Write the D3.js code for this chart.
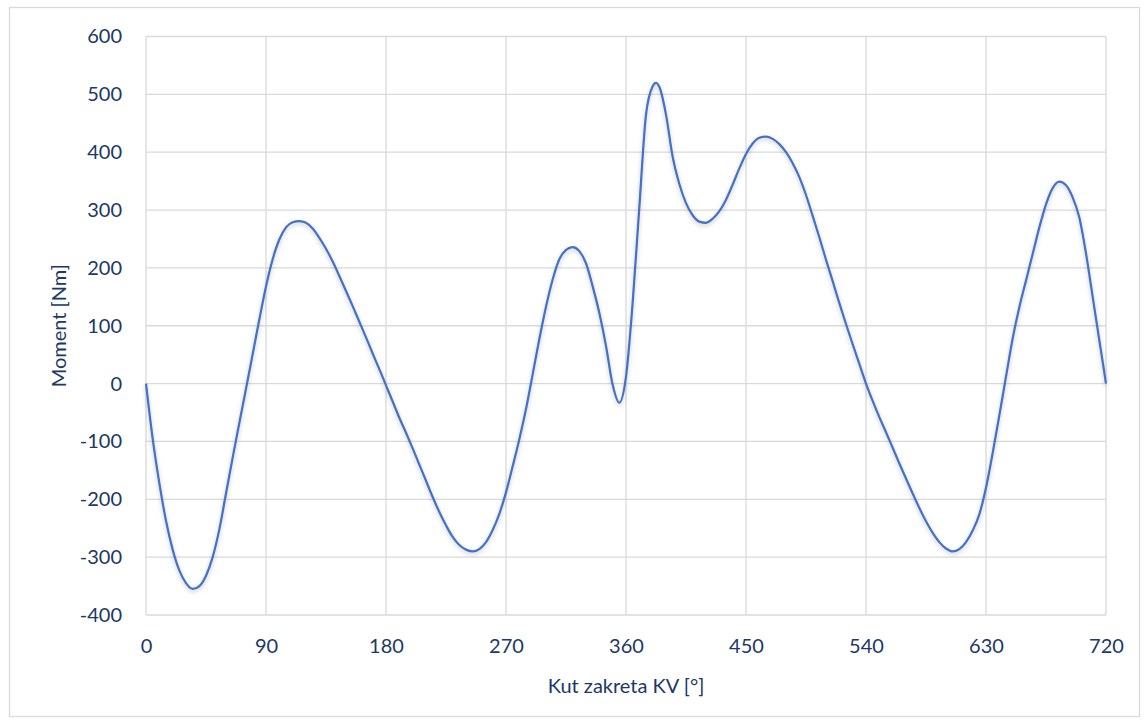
<!DOCTYPE html>
<meta charset="utf-8">
<script src="https://cdn.jsdelivr.net/npm/d3@7"></script>
<style>
  body { margin: 0; background: #fff; font-family: 'Lato', sans-serif; }
  .tick text { fill: #203864; font-size: 20px; }
  .grid line { stroke: #d9d9d9; stroke-width: 1.3; }
  .label { fill: #203864; font-size: 20px; }
</style>
<div id="chart"></div>
<script>
// crank angle [deg] and torque [Nm]
var angle = [
  0, 5, 10, 15, 20, 25, 30, 35, 40, 45, 50, 55, 60, 65, 70, 75, 80, 85, 90, 95,
  100, 105, 110, 115, 120, 125, 130, 135, 140, 145, 150, 155, 160, 165, 170, 175, 180, 185, 190, 195,
  200, 205, 210, 215, 220, 225, 230, 235, 240, 245, 250, 255, 260, 265, 270, 275, 280, 285, 290, 295,
  300, 305, 310, 315, 320, 325, 330, 335, 340, 345, 350, 355, 360, 365, 370, 375, 380, 382.5, 385, 390, 395,
  400, 405, 410, 415, 420, 425, 430, 435, 440, 445, 450, 455, 460, 465, 470, 475, 480, 485, 490, 495,
  500, 505, 510, 515, 520, 525, 530, 535, 540, 545, 550, 555, 560, 565, 570, 575, 580, 585, 590, 595,
  600, 605, 610, 615, 620, 625, 630, 635, 640, 645, 650, 655, 660, 665, 670, 675, 680, 685, 690, 695,
  700, 705, 710, 715, 720];
var moment = [
  0, -95, -172, -237, -287, -323, -345, -355, -350, -332, -300, -252, -190, -128, -68, -9, 51, 111, 168, 215,
  249, 270, 279, 281, 278, 268, 252, 233, 211, 186, 160, 134, 107, 80, 52, 25, -3, -31, -59, -85,
  -112, -140, -168, -196, -222, -245, -265, -279, -287, -290, -286, -274, -253, -225, -188, -143, -96, -44, 16, 77,
  133, 180, 215, 231, 236, 229, 208, 168, 122, 65, -2, -33, 12, 140, 305, 465, 514, 520, 513, 465, 392,
  345, 312, 291, 280, 278, 285, 298, 318, 344, 372, 397, 415, 425, 427, 423, 414, 400, 381, 357, 326,
  290, 253, 214, 177, 139, 103, 68, 34, 0, -30, -58, -84, -111, -138, -164, -190, -215, -238, -258, -274,
  -285, -290, -286, -274, -254, -226, -180, -120, -55, 12, 78, 132, 178, 224, 270, 310, 338, 349, 343, 322,
  287, 225, 150, 75, 0];
var xTicks = [0, 90, 180, 270, 360, 450, 540, 630, 720];
var yTicks = [-400, -300, -200, -100, 0, 100, 200, 300, 400, 500, 600];

var W = 1144, H = 723;
var margin = {top: 36.5, right: 38, bottom: 108, left: 146};
var width = W - margin.left - margin.right,
    height = H - margin.top - margin.bottom;

var svg = d3.select("#chart").append("svg")
    .attr("width", W).attr("height", H);

var defs = svg.append("defs");
var f = defs.append("filter").attr("id", "shadow")
    .attr("x", "-5%").attr("y", "-5%").attr("width", "110%").attr("height", "110%");
f.append("feDropShadow").attr("dx", 0).attr("dy", 2).attr("stdDeviation", 2)
    .attr("flood-color", "#000").attr("flood-opacity", 0.22);

// chart border
svg.append("rect")
    .attr("x", 9.5).attr("y", 7.5).attr("width", 1130).attr("height", 709)
    .attr("fill", "#fff").attr("stroke", "#d9d9d9").attr("stroke-width", 1.3);

var g = svg.append("g")
    .attr("transform", "translate(" + margin.left + "," + margin.top + ")");

var x = d3.scaleLinear().domain([0, 720]).range([0, width]);
var y = d3.scaleLinear().domain([-400, 600]).range([height, 0]);

// grid
g.append("g").attr("class", "grid")
  .selectAll("line").data(xTicks).enter().append("line")
    .attr("x1", function(d) { return x(d); }).attr("x2", function(d) { return x(d); })
    .attr("y1", 0).attr("y2", height);
g.append("g").attr("class", "grid")
  .selectAll("line").data(yTicks).enter().append("line")
    .attr("x1", 0).attr("x2", width)
    .attr("y1", function(d) { return y(d); }).attr("y2", function(d) { return y(d); });

// axes (labels only), plain hyphen for negatives like the original
var xAxis = g.append("g")
    .attr("transform", "translate(0," + height + ")")
    .call(d3.axisBottom(x).tickValues(xTicks).tickSize(0).tickPadding(24).tickFormat(function(d) { return String(d); }));
var yAxis = g.append("g")
    .call(d3.axisLeft(y).tickValues(yTicks).tickSize(0).tickPadding(24).tickFormat(function(d) { return String(d); }));
xAxis.select(".domain").remove();
yAxis.select(".domain").remove();
g.selectAll(".tick text").attr("font-family", "Lato, sans-serif");

var data = angle.map(function(a, i) { return {a: a, m: moment[i]}; });

var line = d3.line()
    .x(function(d) { return x(d.a); })
    .y(function(d) { return y(d.m); })
    .curve(d3.curveMonotoneX);

g.append("path")
    .datum(data)
    .attr("fill", "none")
    .attr("stroke", "#4472c4")
    .attr("stroke-width", 2.25)
    .attr("filter", "url(#shadow)")
    .attr("d", line);

// axis titles
svg.append("text").attr("class", "label")
    .attr("x", margin.left + width / 2).attr("y", 693)
    .attr("text-anchor", "middle")
    .text("Kut zakreta KV [°]");
svg.append("text").attr("class", "label")
    .attr("transform", "translate(66," + (margin.top + height / 2) + ") rotate(-90)")
    .attr("text-anchor", "middle")
    .text("Moment [Nm]");
</script>
